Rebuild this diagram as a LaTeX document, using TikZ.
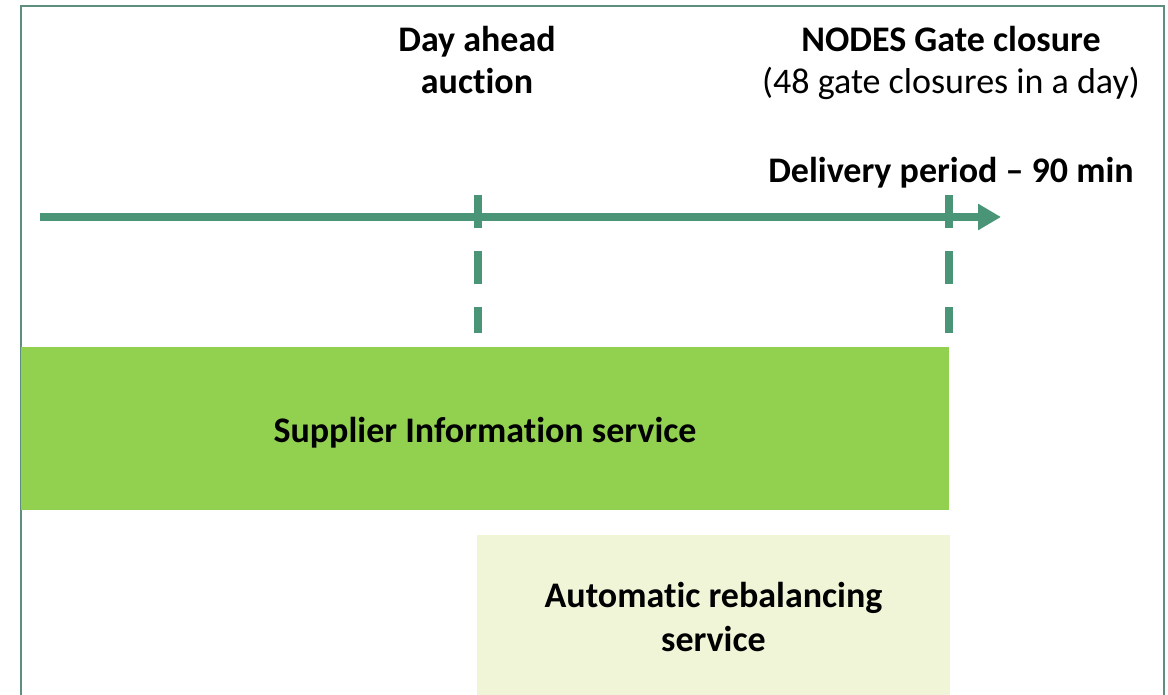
\documentclass[tikz,border=0pt]{standalone}
\usepackage{fontspec}
\setmainfont{Carlito}[Ligatures=CommonOff]
\usetikzlibrary{arrows.meta}
\definecolor{teal1}{HTML}{4A9478}
\definecolor{frame1}{HTML}{5E8E7E}
\definecolor{green1}{HTML}{92D050}
\definecolor{lightgreen}{HTML}{F0F5D8}
\tikzset{
  lbl/.style={font=\fontsize{36}{42}\selectfont, inner sep=0pt, align=center},
  boldlbl/.style={font=\bfseries\fontsize{36}{42}\selectfont, inner sep=0pt, align=center},
  boxtext/.style={font=\bfseries\fontsize{36}{44}\selectfont, align=center, inner sep=0pt},
  timeline/.style={draw=teal1, line width=8pt, -{Triangle[length=23pt,width=25pt]}},
  marker/.style={draw=teal1, line width=8pt, dash pattern=on 33pt off 23pt},
}
\begin{document}
\begin{tikzpicture}[x=1pt,y=-1pt]
\useasboundingbox (0,0) rectangle (1168,695);
% frame
\draw[frame1, line width=2pt] (20.5,720) -- (20.5,6.5) -- (1163.5,6.5) -- (1163.5,720);
% boxes
\node[fill=green1, minimum width=928pt, minimum height=163pt, inner sep=0pt, anchor=north west] (sis) at (21,347) {};
\node[boxtext, anchor=base] (sistext) at (485,442) {Supplier Information service};
\node[fill=lightgreen, minimum width=473pt, minimum height=175pt, inner sep=0pt, anchor=north west] (ars) at (477,535) {};
\node[boxtext, anchor=base] (arstext) at (713.5,651) {Automatic rebalancing\\service};
% timeline
\coordinate (tstart) at (40,217);
\coordinate (tend) at (1001,217);
\draw[timeline] (tstart) -- (tend);
\coordinate (da1) at (478,195);
\coordinate (da2) at (478,333);
\coordinate (gc1) at (949,195);
\coordinate (gc2) at (949,333);
\draw[marker] (da1) -- (da2);
\draw[marker] (gc1) -- (gc2);
% labels
\node[boldlbl, anchor=base] (da) at (477,94) {Day ahead\\auction};
\node[lbl, anchor=base] (gc) at (951,94) {\textbf{NODES Gate closure}\\(48 gate closures in a day)};
\node[boldlbl, anchor=base] (dp) at (951,183) {Delivery period -- 90 min};
\end{tikzpicture}
\end{document}
